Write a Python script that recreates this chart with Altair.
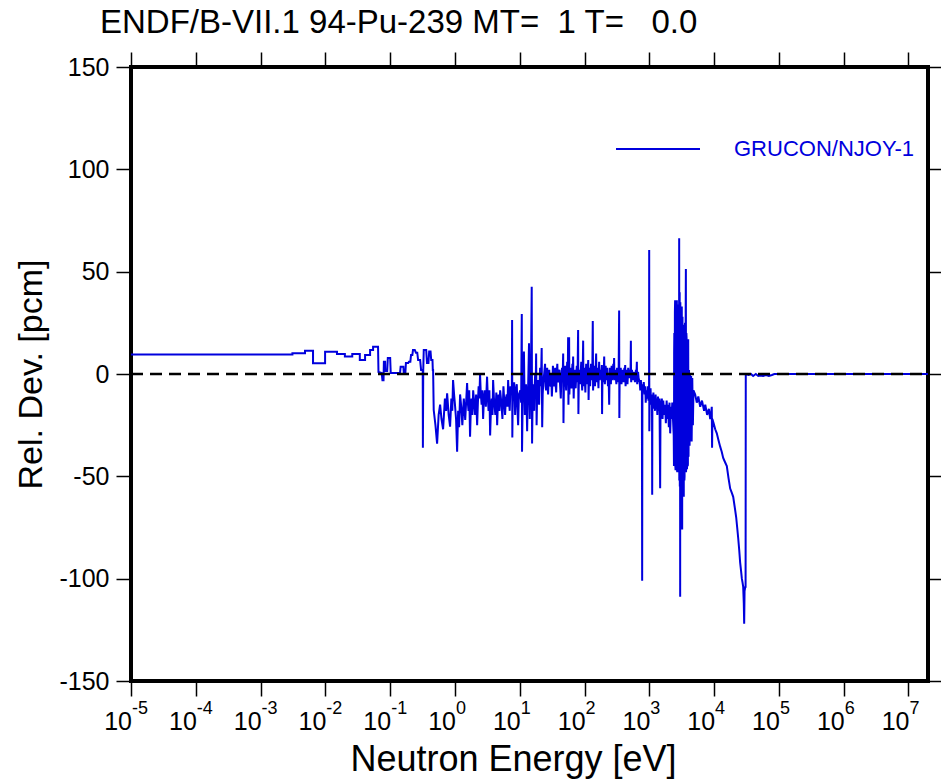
import altair as alt
import pandas as pd

# ---------------- data ----------------
# (energy [eV], relative deviation [pcm])
thermal = [
    (1e-5, 9.5), (3.1e-3, 9.5), (3.1e-3, 10.1), (4.85e-3, 10.1), (4.85e-3, 11.4),
    (6.45e-3, 11.4), (6.45e-3, 5.2), (9.9e-3, 5.2), (9.9e-3, 10.9), (1.51e-2, 10.9),
    (1.51e-2, 9.8), (2.0e-2, 9.8), (2.0e-2, 8.5), (2.6e-2, 8.5), (2.6e-2, 9.8),
    (3.4e-2, 9.8), (3.4e-2, 6.8), (4.1e-2, 6.8), (4.1e-2, 9.3), (4.9e-2, 9.3),
    (4.9e-2, 11.7), (5.45e-2, 11.7), (5.45e-2, 13.3), (6.5e-2, 13.3), (6.6e-2, 1.0),
    (7.4e-2, 0.5), (7.6e-2, -3.0), (7.9e-2, -3.0), (8.0e-2, 6.0), (8.35e-2, 6.0),
    (8.4e-2, 1.5), (9.0e-2, 1.5), (9.2e-2, 7.8), (1.0e-1, 7.8), (1.02e-1, 0.5),
    (1.42e-1, 0.5), (1.45e-1, 3.6), (1.6e-1, 3.6), (1.62e-1, 1.0), (1.72e-1, 1.0),
    (1.75e-1, 5.4), (1.9e-1, 5.4), (1.95e-1, 6.0), (2.05e-1, 6.0), (2.1e-1, 9.3),
    (2.2e-1, 9.3), (2.25e-1, 11.7), (2.4e-1, 11.7), (2.5e-1, 10.4), (2.62e-1, 10.4),
    (2.7e-1, 6.8), (2.9e-1, 6.8), (3.0e-1, 2.0), (3.18e-1, 2.0), (3.2e-1, -36.0),
    (3.24e-1, 2.0), (3.3e-1, 11.7), (3.6e-1, 11.7), (3.7e-1, 5.4), (3.9e-1, 5.4),
    (4.0e-1, 11.0), (4.2e-1, 11.0), (4.3e-1, 6.8), (4.5e-1, 6.8), (4.55e-1, 2.0),
    (4.6e-1, 2.0),
]

resolved_low = [
    (0.47, -17.6), (0.50, -25), (0.53, -34), (0.56, -20), (0.59, -15), (0.62, -22),
    (0.656, -27), (0.70, -12), (0.73, -18), (0.757, -9.4), (0.80, -20), (0.841, -25.7),
    (0.88, -12), (0.91, -18), (0.935, -3), (0.97, -10), (1.0, -15), (1.04, -22),
    (1.08, -38), (1.12, -18), (1.16, -26), (1.20, -10), (1.25, -16), (1.30, -25),
    (1.37, -12), (1.44, -22.5), (1.54, -4.4), (1.58, -14), (1.62, -18), (1.66, -8),
    (1.71, -30.6), (1.76, -16), (1.80, -12), (1.86, -20), (1.91, -8), (1.98, -14),
    (2.05, -20), (2.12, -10), (2.20, -25), (2.26, -14), (2.32, -6), (2.38, -12),
    (2.44, 0), (2.5, -9), (2.58, -15), (2.65, -8), (2.72, -22), (2.8, -12), (2.9, -8),
    (3.0, -16), (3.13, -1.3), (3.2, -10), (3.3, -18), (3.4, -8), (3.49, -30),
    (3.6, -16), (3.7, -12), (3.8, -20), (3.88, -3), (4.0, -12), (4.2, -20), (4.35, -9),
    (4.48, -25), (4.6, -14), (4.7, -10), (4.85, -18), (4.98, -8), (5.2, -14),
    (5.4, -22), (5.6, -6), (5.94, -20), (6.1, -12), (6.3, -10), (6.45, -16),
    (6.62, -3), (6.8, -12), (7.0, -18), (7.2, -6), (7.4, -10),
]

resolved_mid = [
    (7.55, -8), (7.62, 26.4), (7.68, -31), (7.8, -10), (8.0, -12), (8.2, -4),
    (8.49, -20), (8.7, -8), (9.0, -5), (9.2, -16), (9.44, -25), (9.7, -10),
    (10.2, -8), (10.5, -14), (10.75, 29.3), (10.85, -38), (11.1, -12), (11.3, -10),
    (11.6, 11), (11.8, -6), (12.0, -20), (12.3, -8), (12.5, -5), (12.8, -18),
    (13.0, -28), (13.3, -10), (13.5, -5), (13.9, 15), (14.1, -8), (14.3, -22),
    (14.6, -6), (14.8, -10), (15.3, 42.6), (15.5, -34), (15.8, -12), (16.2, -5),
    (16.5, -14), (16.7, -18), (17.0, -6), (17.3, 0), (17.6, -8), (17.9, 10),
    (18.2, -25), (18.6, -8), (19.0, -3), (19.4, -12), (19.9, -15), (20.3, -4),
    (20.6, 3), (21.2, -6), (21.8, 12.7), (22.2, -26), (22.6, -10), (23.0, -5),
]

resolved_high = [
    (24.6, 5), (25.0, -6), (25.5, -8), (26.0, 1), (26.5, 3), (27.0, -7), (27.4, -10),
    (28.0, -2), (28.5, 2), (29.2, -5), (30.0, -6), (30.6, 0), (31.3, -11), (32.0, -3),
    (32.5, 4), (33.2, -4), (34.0, -6), (34.6, 1), (35.2, 3), (35.8, -5), (36.5, -9),
    (37.2, 0), (38.0, 5), (38.6, -3), (39.2, -4), (40.0, 1), (41.0, 2), (42.0, -6),
    (43.0, -12), (44.0, -1), (45.0, 3), (45.8, -4), (46.8, 10), (47.3, -24),
    (48.0, -6), (49.0, -5), (49.8, 2), (50.5, 4), (51.2, -4), (52.0, -8), (53.0, 0),
    (54.0, 6), (55.0, -3), (55.8, 18), (56.4, -15), (57.2, 0), (57.8, 18), (58.4, -10),
    (59.3, -2), (60.5, 3), (61.7, -4), (63.0, -7), (64.0, 1), (65.0, 5), (65.8, -2),
    (66.7, 8.5), (67.4, -4), (68.0, -12), (69.0, -3), (70.0, 2), (71.5, -3),
    (73.0, -7), (74.5, 0), (76.0, 4), (77.8, -4), (79.6, 21.5), (80.4, -19.6),
    (81.6, -3), (83.0, 2), (84.2, -3), (85.5, -5), (87.2, 1), (89.0, 6), (90.5, -3),
    (92.0, -8), (93.6, 0), (95.2, 16.3), (96.2, -6), (98.0, -2), (100, 3),
    (101.5, -4), (103, -9), (104.5, 0), (106, 5), (108, -2), (110, -5), (112, 1),
    (114, 6.8), (115.5, -12.7), (117, -2), (118.5, 3), (120, -3), (122, -6),
    (124, 1), (126, 5), (128, -1), (130, -3), (132, 2), (134, 25.9), (135.5, -8),
    (137.5, -2), (140, 4), (142.5, -3), (145, -6), (148, 2), (151, 10), (153, -2),
    (155, -4), (157.5, 1), (160, 3), (162, -3), (164, -7), (166, 0), (168, 6),
    (170, -1), (172, -3), (175, 1), (178, 2), (181, -2), (185, 4.4), (186.5, -19.6),
    (189, -2), (192, 3), (194, -2), (196, -4), (198.5, 2), (201, 8.5), (203.5, -1),
    (206, -5), (209, 0), (212, 4), (215, -1), (218, -3), (221, 1), (224, 3),
    (227, -2), (230, -6), (235, -1), (240, -15), (243, -2), (246, 3), (250, -1),
    (255, -5), (258, 0), (262, 4), (266, -1), (270, -3), (274, 1), (278, 5),
    (282, -1), (286, 7.8), (289, -1), (292, -3), (296, 0), (300, 2), (305, -2),
    (310, -5), (314, 0), (318, 3), (324, -1), (330, -4), (336, 1), (342, 31),
    (344.5, -21.5), (348, -3), (352, -4), (357, 1), (362, 3), (367, -2), (372, -5),
    (378, 0), (385, 2), (392, -1), (400, -4), (406, 0), (412, 3), (418, 0),
    (424, 4.4), (427, -3), (430, -6), (437, -1), (445, 2), (452, -2), (460, -5),
    (466, -1), (472, 3), (480, 0), (490, -2), (497, 0), (505, 2), (512, -1),
    (519, 16.3), (522, -2), (525, -4), (532, 0), (540, 2), (550, -1), (560, -3),
    (570, 0), (583, 1), (591, -2), (600, -4), (610, -1), (620, 2), (630, -1),
    (642, 6), (646, -3), (650, -5), (660, -2), (670, 1), (683, -2), (697, -3),
]

unresolved = [
    (710, -4), (725, -8), (740, -3), (755, -7), (768, -5), (775, -101), (782, -6),
    (800, -9), (820, -4), (845, -10), (865, -6), (880, -14), (900, -8), (925, -12),
    (950, -6), (970, -13), (990, -8), (995, 60.6), (1000, -28), (1015, -9),
    (1030, -14), (1045, -7), (1060, -15), (1080, -10), (1100, -16), (1107, -59),
    (1115, -10), (1135, -16), (1155, -9), (1175, -17), (1200, -11), (1225, -18),
    (1250, -10), (1276, -16), (1300, -12), (1330, -20), (1360, -11), (1400, -18),
    (1435, -12), (1469, -55.8), (1490, -13), (1520, -20), (1560, -12), (1600, -22),
    (1640, -13), (1690, -20), (1754, -15), (1800, -24), (1850, -13), (1900, -22),
    (1950, -15), (2000, -26), (2050, -14), (2098, -29), (2150, -16), (2200, -22),
    (2260, -14), (2333, -24),
]

dense_block = [
    (2380, -30), (2400, -45), (2415, 10), (2430, 20), (2445, -42), (2460, -40),
    (2480, 30), (2500, 36), (2520, -45), (2540, -47), (2560, 28), (2580, 25),
    (2600, -46), (2620, -44), (2640, 33), (2660, 36), (2680, -47), (2700, -48),
    (2725, 34), (2750, 30), (2775, -46), (2800, -45), (2825, 32), (2850, 20),
    (2870, -48), (2888, 66.3), (2900, -52), (2910, -50), (2925, 38), (2940, 40),
    (2955, -55), (2970, -45), (2980, 30), (2992, -108.8), (3000, 28), (3010, 35),
    (3030, -70), (3050, -60), (3070, 30), (3090, 30), (3110, -60), (3130, -52),
    (3150, 30), (3170, 33), (3190, -65), (3213, -76), (3230, 26), (3250, 28),
    (3275, -60), (3300, -55), (3320, 24), (3340, 22), (3370, -58), (3400, -60),
    (3425, 22), (3450, 20), (3475, -52), (3500, -50), (3530, 24), (3560, 25),
    (3585, -48), (3610, -45), (3640, 30), (3665, 51.3), (3685, -48), (3700, -46),
    (3730, 20), (3760, 17.6), (3790, -46), (3820, -46), (3850, 14), (3880, 15),
    (3910, -45), (3940, -44), (3960, 12), (3981, 17), (4010, -40), (4030, -40),
    (4100, 2), (4180, -35), (4250, 0), (4330, -33), (4420, -1), (4500, -33),
    (4600, -2), (4700, -25), (4800, -8),
]

fast = [
    (5100, -10), (5400, -14), (5700, -11), (6100, -16), (6500, -13), (7000, -18),
    (7300, -15), (7800, -20), (8300, -17), (8700, -22), (9000, -19), (9200, -16),
    (9300, -36), (9400, -22), (9800, -24), (10400, -27), (11000, -29), (11600, -32),
    (12400, -35.5), (13100, -38), (13800, -41), (14700, -43), (15700, -45),
    (16700, -51), (17700, -56), (18700, -58), (19700, -60), (20800, -65),
    (21900, -70), (22700, -75), (23500, -80), (24400, -86), (25200, -92),
    (26000, -96), (26800, -100), (27500, -102), (28100, -104), (28700, -112),
    (29100, -122), (29500, -106), (30300, -104), (30600, -104), (30800, 0),
]

tail = [
    (31500, 0), (34000, -0.5), (37000, 0), (40000, -1), (44000, 0), (48000, -1),
    (52000, -0.8), (57000, -1), (63000, -0.5), (70000, -1), (78000, -0.5),
    (85000, 0), (1e5, 0), (2e7, 0),
]

series_name = "GRUCON/NJOY-1"
title_text = "ENDF/B-VII.1 94-Pu-239 MT=\u00a0\u00a01 T=\u00a0\u00a0\u00a00.0"
decades = [-5, -4, -3, -2, -1, 0, 1, 2, 3, 4, 5, 6, 7]
y_ticks = [-150, -100, -50, 0, 50, 100, 150]
x_domain = [1e-5, 2e7]
y_domain = [-150, 150]

# ---------------- tables ----------------
points = (thermal + resolved_low + resolved_mid + resolved_high + unresolved
          + dense_block + fast + tail)
df = pd.DataFrame(points, columns=["energy", "dev"])
df["order"] = range(len(df))
df["series"] = series_name

zero_df = pd.DataFrame({"energy": x_domain, "dev": [0, 0]})
tick_energies = [10.0 ** e for e in decades]
lab_df = pd.DataFrame({"energy": tick_energies, "base": ["10"] * len(decades),
                       "exp": [str(e) for e in decades]})

FONT = "Liberation Sans"
BLUE = "#0000dd"
W, H = 797, 614
TICK = 15

xscale = alt.Scale(type="log", domain=x_domain, nice=False)
yscale = alt.Scale(domain=y_domain, nice=False, zero=False)

line = alt.Chart(df).mark_line(strokeWidth=2).encode(
    x=alt.X("energy:Q", scale=xscale,
            axis=alt.Axis(orient="bottom", values=tick_energies, labels=False,
                          tickSize=TICK, tickWidth=1.5, tickColor="black",
                          domain=False, grid=False, title="Neutron Energy [eV]",
                          titleFont=FONT, titleFontSize=36, titleFontWeight="normal",
                          titleColor="black", titleX=382, titleY=89,
                          titleBaseline="alphabetic", titleAlign="center")),
    y=alt.Y("dev:Q", scale=yscale,
            axis=alt.Axis(orient="left", values=y_ticks, tickSize=TICK, tickWidth=1.5,
                          tickColor="black", labelFont=FONT, labelFontSize=25,
                          labelColor="black", labelPadding=7, domain=False, grid=False,
                          labelExpr="'' + datum.value",
                          title="Rel. Dev. [pcm]", titleFont=FONT, titleFontSize=34,
                          titleFontWeight="normal", titleColor="black",
                          titleX=-90, titleY=307, titleAngle=270,
                          titleBaseline="alphabetic", titleAlign="center")),
    color=alt.Color("series:N", scale=alt.Scale(range=[BLUE]),
                    legend=alt.Legend(title=None, orient="none", legendX=484, legendY=39,
                                      symbolType="stroke", symbolSize=7056,
                                      symbolStrokeWidth=2, labelColor=BLUE,
                                      labelFont=FONT, labelFontSize=22, labelOffset=33,
                                      labelLimit=400, padding=0)),
    order="order:Q",
)

zero = alt.Chart(zero_df).mark_line(color="black", strokeWidth=2.5, strokeDash=[12, 7]).encode(
    x=alt.X("energy:Q", scale=xscale,
            axis=alt.Axis(orient="top", values=tick_energies, labels=False, tickSize=TICK,
                          tickWidth=1.5, tickColor="black", domain=False, grid=False,
                          title=None)),
    y=alt.Y("dev:Q", scale=yscale,
            axis=alt.Axis(orient="right", values=y_ticks, labels=False, tickSize=TICK,
                          tickWidth=1.5, tickColor="black", domain=False, grid=False,
                          title=None)),
)

base_text = alt.Chart(lab_df).mark_text(align="right", baseline="alphabetic", font=FONT,
                                        fontSize=25, color="black", dx=1).encode(
    x=alt.X("energy:Q", scale=xscale, axis=None),
    y=alt.value(H + 49),
    text="base:N",
)

exp_text = alt.Chart(lab_df).mark_text(align="left", baseline="alphabetic", font=FONT,
                                       fontSize=18, color="black", dx=1).encode(
    x=alt.X("energy:Q", scale=xscale, axis=None),
    y=alt.value(H + 33),
    text="exp:N",
)

chart = alt.layer(line, zero, base_text, exp_text).resolve_axis(
    x="independent", y="independent"
).properties(
    width=W, height=H,
    background="white",
    padding={"left": 131, "top": 67, "right": 13, "bottom": 98},
    autosize=alt.AutoSizeParams(type="none"),
    title=alt.TitleParams(text=title_text, anchor="start", frame="group", font=FONT,
                          fontSize=33, fontWeight="normal", color="black", dx=-31,
                          dy=30, offset=15, baseline="alphabetic"),
).configure_view(stroke="black", strokeWidth=4)

chart.save("out.html", embed_options={"renderer": "svg", "actions": False})
